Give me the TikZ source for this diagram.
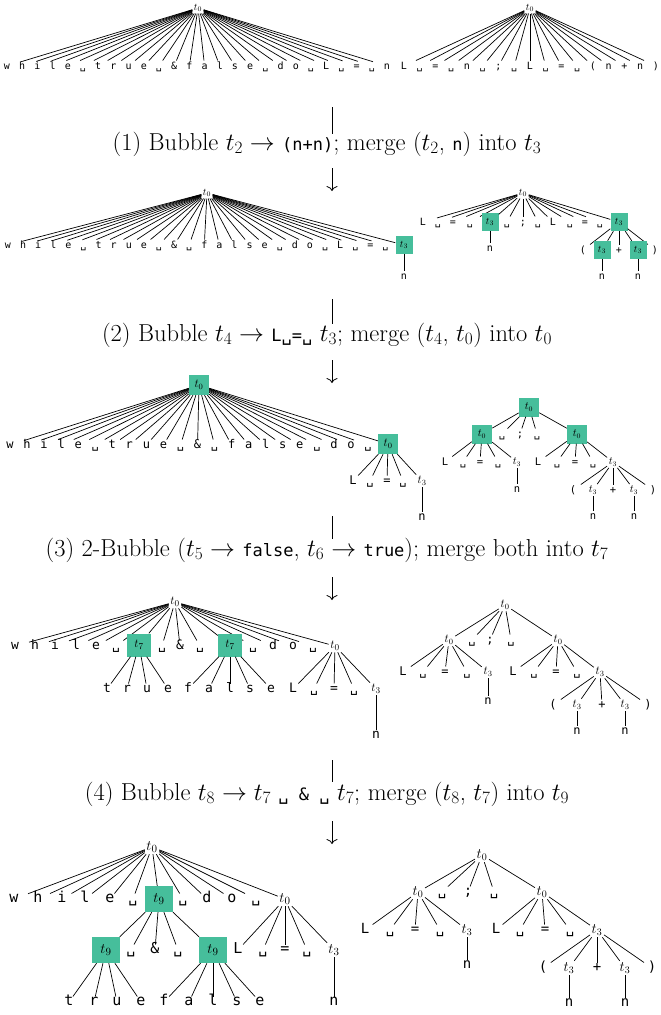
\documentclass[tikz,border=0pt]{standalone}
\usepackage{fontspec}
\setmonofont{DejaVu Sans Mono}
\usetikzlibrary{arrows.meta}
\definecolor{boxgreen}{RGB}{70,190,155}
\newcommand{\vsp}{\symbol{"2423}}
\newcommand{\tsz}{\fontsize{10}{12}\selectfont}
\newcommand{\code}[1]{{\fontsize{17}{20}\selectfont\ttfamily #1}}
\tikzset{
  tok/.style={inner sep=0pt,outer sep=2pt,text height=7pt,text depth=0pt,minimum width=24pt,font=\tsz\ttfamily},
  tnode/.style={inner sep=1.5pt,font=\tsz},
  hl/.style={fill=boxgreen,inner sep=0pt,font=\tsz},
  link/.style={line width=0.7pt},
  vline/.style={line width=0.8pt},
  arr/.style={-{To[length=5pt,width=11pt]},line width=0.8pt},
  captext/.style={inner sep=0pt,font=\fontsize{24.5}{28}\selectfont}
}
% children of one parent, placed at given x on one row
\newcommand{\kids}[4]{%
  \foreach \x/\s [count=\i] in {#4} {
    \node[tok] (#2\i) at (\x,#3) {\s};
    \draw[link] (#1) -- (#2\i);
  }}

\begin{document}
\begin{tikzpicture}[x=1pt,y=-1pt]
  \useasboundingbox (0,0) rectangle (661,1015);

  % Start: flat trees
  \begin{scope}
    \renewcommand{\tsz}{\fontsize{10}{12}\selectfont}
    \node[tnode] (ra) at (198,8) {$t_0$};
    \foreach \s [count=\i from 0] in {w,h,i,l,e,\vsp,t,r,u,e,\vsp,\&,f,a,l,s,e,\vsp,d,o,\vsp,L,\vsp,=,\vsp,n} {
      \node[tok] (ra\i) at ({7+15.2*\i},66) {\s};
      \draw[link] (ra) -- (ra\i);
    }
    \node[tnode] (sa) at (530,8) {$t_0$};
    \foreach \s [count=\i from 0] in {L,\vsp,=,\vsp,n,\vsp,;,\vsp,L,\vsp,=,\vsp,{(},n,+,n,{)}} {
      \node[tok] (sa\i) at ({404+15.75*\i},66) {\s};
      \draw[link] (sa) -- (sa\i);
    }
  \end{scope}

  % Step 1
  \node[captext] (c1) at (327,144) {(1) Bubble $t_2\rightarrow$ \code{(n+n)}; merge ($t_2$, \code{n}) into $t_3$};
  \coordinate (c1a) at (332,107);
  \coordinate (c1b) at (332,134);
  \coordinate (c1c) at (332,168);
  \coordinate (c1d) at (332,191);
  \draw[vline] (c1a) -- (c1b);
  \draw[arr] (c1c) -- (c1d);

  \begin{scope}[hl/.append style={minimum width=17pt,minimum height=18pt}]
    \renewcommand{\tsz}{\fontsize{10}{12}\selectfont}
    \node[tnode] (rb) at (207,193) {$t_0$};
    \foreach \s [count=\i from 0] in {w,h,i,l,e,\vsp,t,r,u,e,\vsp,\&,\vsp,f,a,l,s,e,\vsp,d,o,\vsp,L,\vsp,=,\vsp} {
      \node[tok] (rb\i) at ({8+15.1*\i},245) {\s};
      \draw[link] (rb) -- (rb\i);
    }
    \node[hl] (rbt) at (404,245) {$t_3$};
    \node[tok] (rbn) at (404,276) {n};
    \draw[link] (rb) -- (rbt);
    \draw[link] (rbt) -- (rbn);

    \node[tnode] (sb) at (523,193) {$t_0$};
    \kids{sb}{sbk}{222}{423/L,438/\vsp,453/=,470/\vsp,507/\vsp,523/;,538/\vsp,553/L,570/\vsp,585/=,600/\vsp}
    \node[hl] (sb1) at (490,222) {$t_3$};
    \node[hl] (sb2) at (619,222) {$t_3$};
    \node[tok] (sb1n) at (490,248) {n};
    \kids{sb2}{sbm}{250}{583/{(},619/+,655/{)}}
    \node[hl] (sb3) at (602,250) {$t_3$};
    \node[hl] (sb4) at (638,250) {$t_3$};
    \node[tok] (sb3n) at (602,276) {n};
    \node[tok] (sb4n) at (638,276) {n};
    \draw[link] (sb) -- (sb1);
    \draw[link] (sb) -- (sb2);
    \draw[link] (sb1) -- (sb1n);
    \draw[link] (sb2) -- (sb3);
    \draw[link] (sb2) -- (sb4);
    \draw[link] (sb3) -- (sb3n);
    \draw[link] (sb4) -- (sb4n);
  \end{scope}

  % Step 2
  \node[captext] (c2) at (327,335) {(2) Bubble $t_4\rightarrow$ \code{L\vsp=\vsp} $t_3$; merge ($t_4$, $t_0$) into $t_0$};
  \coordinate (c2a) at (332,299);
  \coordinate (c2b) at (332,324);
  \coordinate (c2c) at (332,360);
  \coordinate (c2d) at (332,383);
  \draw[vline] (c2a) -- (c2b);
  \draw[arr] (c2c) -- (c2d);

  \begin{scope}[hl/.append style={minimum width=20pt,minimum height=20pt}]
    \renewcommand{\tsz}{\fontsize{12}{14}\selectfont}
    \node[hl] (rc) at (199,385) {$t_0$};
    \foreach \s [count=\i from 0] in {w,h,i,l,e,\vsp,t,r,u,e,\vsp,\&,\vsp,f,a,l,s,e,\vsp,d,o,\vsp} {
      \node[tok] (rc\i) at ({10+17.05*\i},445) {\s};
      \draw[link] (rc) -- (rc\i);
    }
    \node[hl] (rc1) at (388,444) {$t_0$};
    \kids{rc1}{rck}{481}{353/L,370/\vsp,387/=,403/\vsp}
    \node[tnode] (rc2) at (422,481) {$t_3$};
    \node[tok] (rc2n) at (422,517) {n};
    \draw[link] (rc) -- (rc1);
    \draw[link] (rc1) -- (rc2);
    \draw[link] (rc2) -- (rc2n);
  \end{scope}
  \begin{scope}[hl/.append style={minimum width=20pt,minimum height=19pt}]
    \renewcommand{\tsz}{\fontsize{10.5}{12}\selectfont}
    \node[hl] (sc) at (529,407) {$t_0$};
    \node[hl] (sc1) at (482,434) {$t_0$};
    \node[hl] (sc2) at (577,434) {$t_0$};
    \kids{sc}{sck}{434}{502/\vsp,520/;,537/\vsp}
    \kids{sc1}{scl}{462}{445/L,463/\vsp,480/=,498/\vsp}
    \kids{sc2}{scm}{462}{538/L,557/\vsp,575/=,593/\vsp}
    \node[tnode] (sc3) at (517,462) {$t_3$};
    \node[tnode] (sc4) at (613,462) {$t_3$};
    \node[tok] (sc3n) at (517,489) {n};
    \kids{sc4}{scn}{490}{573/{(},613/+,653/{)}}
    \node[tnode] (sc5) at (593,490) {$t_3$};
    \node[tnode] (sc6) at (634,490) {$t_3$};
    \node[tok] (sc5n) at (593,516) {n};
    \node[tok] (sc6n) at (634,516) {n};
    \draw[link] (sc) -- (sc1);
    \draw[link] (sc) -- (sc2);
    \draw[link] (sc1) -- (sc3);
    \draw[link] (sc2) -- (sc4);
    \draw[link] (sc3) -- (sc3n);
    \draw[link] (sc4) -- (sc5);
    \draw[link] (sc4) -- (sc6);
    \draw[link] (sc5) -- (sc5n);
    \draw[link] (sc6) -- (sc6n);
  \end{scope}

  % Step 3
  \node[captext] (c3) at (327,550) {(3) 2-Bubble ($t_5\rightarrow$ \code{false}, $t_6\rightarrow$ \code{true}); merge both into $t_7$};
  \coordinate (c3a) at (332,516);
  \coordinate (c3b) at (332,539);
  \coordinate (c3c) at (332,577);
  \coordinate (c3d) at (332,600);
  \draw[vline] (c3a) -- (c3b);
  \draw[arr] (c3c) -- (c3d);

  \begin{scope}[hl/.append style={minimum width=24pt,minimum height=23pt}]
    \renewcommand{\tsz}{\fontsize{13}{15}\selectfont}
    \node[tnode] (rd) at (175,602) {$t_0$};
    \kids{rd}{rdk}{646}{15/w,35/h,55/i,76/l,96/e,116/\vsp,162/\vsp,180/\&,200/\vsp,253/\vsp,273/d,293/o,313/\vsp}
    \node[hl] (rd1) at (139,645) {$t_7$};
    \node[hl] (rd2) at (230,645) {$t_7$};
    \node[tnode] (rd3) at (335,646) {$t_0$};
    \kids{rd1}{rdl}{689}{107/t,127/r,147/u,168/e}
    \kids{rd2}{rdm}{689}{188/f,209/a,230/l,250/s,271/e}
    \kids{rd3}{rdn}{689}{293/L,314/\vsp,334/=,354/\vsp}
    \node[tnode] (rd4) at (376,689) {$t_3$};
    \node[tok] (rd4n) at (376,735) {n};
    \draw[link] (rd) -- (rd1);
    \draw[link] (rd) -- (rd2);
    \draw[link] (rd) -- (rd3);
    \draw[link] (rd3) -- (rd4);
    \draw[link] (rd4) -- (rd4n);
  \end{scope}
  \begin{scope}
    \renewcommand{\tsz}{\fontsize{12}{14}\selectfont}
    \node[tnode] (sd) at (505,605) {$t_0$};
    \node[tnode] (sd1) at (449,640) {$t_0$};
    \node[tnode] (sd2) at (558,640) {$t_0$};
    \kids{sd}{sdk}{640}{472/\vsp,490/;,511/\vsp}
    \kids{sd1}{sdl}{672}{403/L,423/\vsp,445/=,467/\vsp}
    \kids{sd2}{sdm}{672}{513/L,534/\vsp,556/=,577/\vsp}
    \node[tnode] (sd3) at (488,672) {$t_3$};
    \node[tnode] (sd4) at (600,672) {$t_3$};
    \node[tok] (sd3n) at (488,701) {n};
    \kids{sd4}{sdn}{705}{553/{(},602/+,648/{)}}
    \node[tnode] (sd5) at (577,705) {$t_3$};
    \node[tnode] (sd6) at (625,705) {$t_3$};
    \node[tok] (sd5n) at (577,731) {n};
    \node[tok] (sd6n) at (625,731) {n};
    \draw[link] (sd) -- (sd1);
    \draw[link] (sd) -- (sd2);
    \draw[link] (sd1) -- (sd3);
    \draw[link] (sd2) -- (sd4);
    \draw[link] (sd3) -- (sd3n);
    \draw[link] (sd4) -- (sd5);
    \draw[link] (sd4) -- (sd6);
    \draw[link] (sd5) -- (sd5n);
    \draw[link] (sd6) -- (sd6n);
  \end{scope}

  % Step 4
  \node[captext] (c4) at (327,794) {(4) Bubble $t_8\rightarrow t_7$ \code{\vsp{} \& \vsp} $t_7$; merge ($t_8$, $t_7$) into $t_9$};
  \coordinate (c4a) at (332,760);
  \coordinate (c4b) at (332,782);
  \coordinate (c4c) at (332,821);
  \coordinate (c4d) at (332,844);
  \draw[vline] (c4a) -- (c4b);
  \draw[arr] (c4c) -- (c4d);

  \begin{scope}[hl/.append style={minimum width=28pt,minimum height=26pt}]
    \renewcommand{\tsz}{\fontsize{15}{17}\selectfont}
    \node[tnode] (re) at (152,847) {$t_0$};
    \kids{re}{rek}{899}{14/w,38/h,62/i,85/l,110/e,133/\vsp,183/\vsp,207/d,232/o,256/\vsp}
    \node[hl] (re1) at (159,899) {$t_9$};
    \node[tnode] (re2) at (285,899) {$t_0$};
    \kids{re1}{rel}{950}{131/\vsp,155/\&,178/\vsp}
    \node[hl] (re3) at (106,950) {$t_9$};
    \node[hl] (re4) at (213,950) {$t_9$};
    \kids{re3}{rem}{1002}{69/t,94/r,117/u,141/e}
    \kids{re4}{ren}{1002}{164/f,189/a,213/l,237/s,260/e}
    \kids{re2}{reo}{950}{238/L,263/\vsp,285/=,307/\vsp}
    \node[tnode] (re5) at (334,950) {$t_3$};
    \node[tok] (re5n) at (334,1002) {n};
    \draw[link] (re) -- (re1);
    \draw[link] (re) -- (re2);
    \draw[link] (re1) -- (re3);
    \draw[link] (re1) -- (re4);
    \draw[link] (re2) -- (re5);
    \draw[link] (re5) -- (re5n);
  \end{scope}
  \begin{scope}
    \renewcommand{\tsz}{\fontsize{14}{16}\selectfont}
    \node[tnode] (se) at (482,855) {$t_0$};
    \node[tnode] (se1) at (418,892) {$t_0$};
    \node[tnode] (se2) at (542,892) {$t_0$};
    \kids{se}{sek}{892}{442/\vsp,468/;,494/\vsp}
    \kids{se1}{sel}{930}{365/L,390/\vsp,415/=,440/\vsp}
    \kids{se2}{sem}{930}{496/L,520/\vsp,545/=,570/\vsp}
    \node[tnode] (se3) at (467,930) {$t_3$};
    \node[tnode] (se4) at (597,930) {$t_3$};
    \node[tok] (se3n) at (467,965) {n};
    \kids{se4}{sen}{968}{543/{(},597/+,652/{)}}
    \node[tnode] (se5) at (569,968) {$t_3$};
    \node[tnode] (se6) at (625,968) {$t_3$};
    \node[tok] (se5n) at (569,1003) {n};
    \node[tok] (se6n) at (625,1003) {n};
    \draw[link] (se) -- (se1);
    \draw[link] (se) -- (se2);
    \draw[link] (se1) -- (se3);
    \draw[link] (se2) -- (se4);
    \draw[link] (se3) -- (se3n);
    \draw[link] (se4) -- (se5);
    \draw[link] (se4) -- (se6);
    \draw[link] (se5) -- (se5n);
    \draw[link] (se6) -- (se6n);
  \end{scope}
\end{tikzpicture}
\end{document}
